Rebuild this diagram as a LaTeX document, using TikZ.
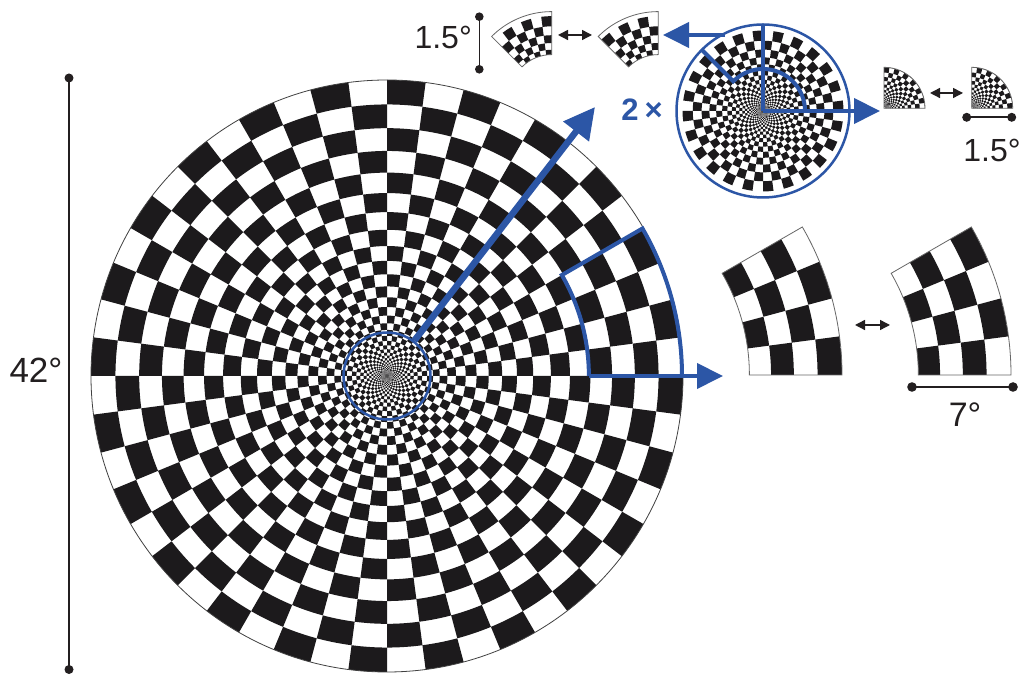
\documentclass[tikz,border=0pt]{standalone}
\usepackage{fontspec}
\setmainfont{Liberation Sans}
\usetikzlibrary{arrows.meta}
\definecolor{cellblack}{RGB}{28,26,28}
\definecolor{figblue}{RGB}{44,86,166}
\definecolor{txtgray}{RGB}{35,31,32}
% ring radii: ratio grows from 1.09 at the rim to 1.145 near the centre
\newcount\ringcnt
\def\rcur{296}
\ringcnt=0
\expandafter\xdef\csname ringR0\endcsname{296}
\loop
  \pgfmathsetmacro\qq{1.145-0.055*min(1,max(0,(\rcur-60)/236))}
  \pgfmathsetmacro\rcur{\rcur/\qq}
  \global\advance\ringcnt by 1
  \expandafter\xdef\csname ringR\the\ringcnt\endcsname{\rcur}
\ifnum\ringcnt<47 \repeat
% #1 kmin #2 kmax #3 jmin #4 jmax #5 scale #6 parity flip
\newcommand\ringcells[6]{%
  \foreach \k in {#1,...,#2} {%
    \pgfmathtruncatemacro\kn{\k+1}%
    \edef\rOutRaw{\csname ringR\k\endcsname}%
    \edef\rInRaw{\csname ringR\kn\endcsname}%
    \pgfmathsetmacro\rOut{#5*\rOutRaw}%
    \pgfmathsetmacro\rIn{#5*\rInRaw}%
    \foreach \j in {#3,...,#4} {%
      \pgfmathtruncatemacro\cpar{mod(\j+\k+#6,2)}%
      \ifnum\cpar=1
        \pgfmathsetmacro\angA{\j*7.5}%
        \pgfmathsetmacro\angB{\j*7.5+7.5}%
        \fill[cellblack] (\angA:\rIn) arc[start angle=\angA,end angle=\angB,radius=\rIn] -- (\angB:\rOut) arc[start angle=\angB,end angle=\angA,radius=\rOut] -- cycle;
      \fi
    }%
  }%
}
\begin{document}
\begin{tikzpicture}[x=1pt,y=1pt,
  blueline/.style={draw=figblue,line width=4pt,line join=miter},
  bluearrow/.style={draw=figblue,line width=4pt,-{Triangle[length=26pt,width=25pt]}},
  patchline/.style={draw=black!60,line width=0.8pt},
  dblarrow/.style={draw=txtgray,line width=1.4pt,{Triangle[length=10pt,width=10pt]}-{Triangle[length=10pt,width=10pt]}},
  scalebar/.style={draw=txtgray,line width=1.6pt},
  txt/.style={text=txtgray,inner sep=0pt}]
\fill[white] (0,0) rectangle (1027,674);
\useasboundingbox (0,0) rectangle (1027,674);
\edef\rfour{\csname ringR4\endcsname}
% ---------- main board
\begin{scope}[shift={(387,298)}]
  \fill[white] (0,0) circle (296);
  \ringcells{0}{46}{0}{47}{1}{0}
  \fill[black!70] (0,0) circle (1.2);
  \draw[black!75,line width=0.8pt] (0,0) circle (296);
  \draw[blueline] (0:295) arc[start angle=0,end angle=30,radius=295] -- (30:\rfour-1.5) arc[start angle=30,end angle=0,radius=\rfour-1.5];
  \coordinate (pbase) at (0:\rfour-1.5);
  \coordinate (ptip) at (336,0);
\end{scope}
\draw[bluearrow] (pbase) -- (ptip);
\node[circle,draw=figblue,line width=2.5pt,minimum size=87pt,inner sep=0pt] (zoomc) at (387,298) {};
\coordinate (bigtip) at (595,567);
\draw[figblue,line width=6.5pt,-{Triangle[length=31pt,width=31pt]}] (zoomc) -- (bigtip);
% ---------- magnified circle
\begin{scope}[shift={(763,563)}]
  \begin{scope}
    \clip (0,0) circle (86.5);
    \fill[white] (0,0) circle (86.5);
    \ringcells{17}{46}{0}{47}{2}{0}
    \fill[black!70] (0,0) circle (2);
  \end{scope}
  \draw[blueline] (90:86.5) -- (0,0);
  \draw[blueline] (0:42) arc[start angle=0,end angle=135,radius=42] -- (135:86.5);
  \coordinate (mc) at (0,0);
  \coordinate (mtip) at (117,0);
\end{scope}
\node[circle,draw=figblue,line width=2.5pt,minimum size=173pt,inner sep=0pt] (magc) at (763,563) {};
\draw[bluearrow] (mc) -- (mtip);
\coordinate (lstart) at (725,639);
\coordinate (ltip) at (663,639);
\draw[bluearrow] (lstart) -- (ltip);
\node[text=figblue,font=\fontsize{31}{34}\selectfont\bfseries,inner sep=0pt] (twox) at (642,564) {2\hspace{6pt}×};
% ---------- 7 deg patches
\begin{scope}[shift={(546,299)}]
  \begin{scope}
    \clip (0:\rfour) -- (0:296) arc[start angle=0,end angle=30,radius=296] -- (30:\rfour) arc[start angle=30,end angle=0,radius=\rfour] -- cycle;
    \ringcells{0}{3}{0}{3}{1}{1}
  \end{scope}
  \draw[patchline] (0:\rfour) -- (0:296) arc[start angle=0,end angle=30,radius=296] -- (30:\rfour) arc[start angle=30,end angle=0,radius=\rfour] -- cycle;
\end{scope}
\begin{scope}[shift={(715,299)}]
  \begin{scope}
    \clip (0:\rfour) -- (0:296) arc[start angle=0,end angle=30,radius=296] -- (30:\rfour) arc[start angle=30,end angle=0,radius=\rfour] -- cycle;
    \ringcells{0}{3}{0}{3}{1}{0}
  \end{scope}
  \draw[patchline] (0:\rfour) -- (0:296) arc[start angle=0,end angle=30,radius=296] -- (30:\rfour) arc[start angle=30,end angle=0,radius=\rfour] -- cycle;
\end{scope}
\coordinate (d7a) at (855,349);
\coordinate (d7b) at (890,349);
\draw[dblarrow] (d7a) -- (d7b);
\coordinate (s7a) at (912,287);
\coordinate (s7b) at (1013,287);
\draw[scalebar] (s7a) -- (s7b);
\fill[txtgray] (s7a) circle (4.8) (s7b) circle (4.8);
\node[txt,font=\fontsize{34}{40}\selectfont] (l7) at (965,259) {7°};
% ---------- top-left 1.5 deg patches
\begin{scope}[shift={(551.7,577.4)}]
  \begin{scope}
    \clip (90:42) -- (90:85) arc[start angle=90,end angle=135,radius=85] -- (135:42) arc[start angle=135,end angle=90,radius=42] -- cycle;
    \ringcells{17}{27}{12}{17}{2}{0}
  \end{scope}
  \draw[patchline] (90:42) -- (90:85) arc[start angle=90,end angle=135,radius=85] -- (135:42) arc[start angle=135,end angle=90,radius=42] -- cycle;
\end{scope}
\begin{scope}[shift={(658.3,577.4)}]
  \begin{scope}
    \clip (90:42) -- (90:85) arc[start angle=90,end angle=135,radius=85] -- (135:42) arc[start angle=135,end angle=90,radius=42] -- cycle;
    \ringcells{17}{27}{12}{17}{2}{1}
  \end{scope}
  \draw[patchline] (90:42) -- (90:85) arc[start angle=90,end angle=135,radius=85] -- (135:42) arc[start angle=135,end angle=90,radius=42] -- cycle;
\end{scope}
\coordinate (dta) at (558,639);
\coordinate (dtb) at (592,639);
\draw[dblarrow] (dta) -- (dtb);
\coordinate (sta) at (479.3,657.3);
\coordinate (stb) at (479.3,604.7);
\draw[scalebar] (sta) -- (stb);
\fill[txtgray] (sta) circle (4.3) (stb) circle (4.3);
\node[txt,font=\fontsize{32}{38}\selectfont,anchor=east] (l15a) at (472,636.5) {1.5°};
% ---------- top-right 1.5 deg quarter patches
\begin{scope}[shift={(884,565.7)}]
  \begin{scope}
    \clip (0,0) -- (0:41) arc[start angle=0,end angle=90,radius=41] -- cycle;
    \ringcells{21}{46}{0}{11}{2}{0}
  \end{scope}
  \draw[patchline] (0,0) -- (0:41) arc[start angle=0,end angle=90,radius=41] -- cycle;
\end{scope}
\begin{scope}[shift={(971.7,565.7)}]
  \begin{scope}
    \clip (0,0) -- (0:41) arc[start angle=0,end angle=90,radius=41] -- cycle;
    \ringcells{21}{46}{0}{11}{2}{1}
  \end{scope}
  \draw[patchline] (0,0) -- (0:41) arc[start angle=0,end angle=90,radius=41] -- cycle;
\end{scope}
\coordinate (dra) at (930,581);
\coordinate (drb) at (963,581);
\draw[dblarrow] (dra) -- (drb);
\coordinate (sra) at (966.7,556.7);
\coordinate (srb) at (1011.7,556.7);
\draw[scalebar] (sra) -- (srb);
\fill[txtgray] (sra) circle (4.5) (srb) circle (4.5);
\node[txt,font=\fontsize{32}{38}\selectfont] (l15b) at (992,524) {1.5°};
% ---------- 42 deg bar
\coordinate (sla) at (69,596);
\coordinate (slb) at (69,4.5);
\draw[scalebar] (sla) -- (slb);
\fill[txtgray] (sla) circle (4.5) (slb) circle (4.5);
\node[txt,font=\fontsize{35}{40}\selectfont] (l42) at (36,304) {42°};
\end{tikzpicture}
\end{document}
